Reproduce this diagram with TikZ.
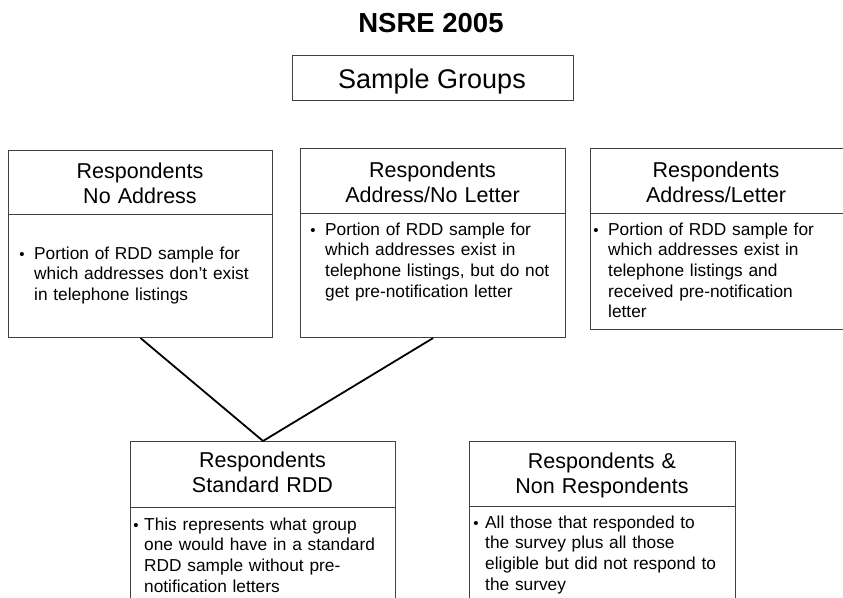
\documentclass[tikz,border=0pt]{standalone}
\usepackage{fontspec}
\setmainfont{Liberation Sans}
\begin{document}
\begin{tikzpicture}[x=1pt,y=-1pt,
  boxst/.style={draw=black!75, line width=1.1pt, inner sep=0pt, anchor=north west},
  hdrtxt/.style={font=\fontsize{21.5}{25}\selectfont, text width=260pt, align=center, anchor=base, inner sep=0pt},
  bodytxt/.style={font=\fontsize{17.3}{20.7}\selectfont, text width=260pt, align=left, anchor=base west, inner sep=0pt},
  bul/.style={font=\fontsize{15}{20.7}\selectfont, anchor=base, inner sep=0pt},
  link/.style={draw=black, line width=1.8pt}]
\useasboundingbox (0,0) rectangle (843,597);
\clip (0,0) rectangle (843,597);
\fill[white] (0,0) rectangle (843,597);

% title
\node[font=\bfseries\fontsize{27.5}{30}\selectfont, anchor=base, inner sep=0pt] (title) at (431,32) {NSRE 2005};
\node[boxst, minimum width=281pt, minimum height=45pt] (sg) at (292,55) {};
\node[font=\fontsize{27}{30}\selectfont, anchor=base, inner sep=0pt] (sgt) at (432,88) {Sample Groups};

% box 1
\node[boxst, minimum width=264pt, minimum height=64pt] (h1) at (8,150) {};
\node[boxst, minimum width=264pt, minimum height=123pt] (b1) at (8,214) {};
\node[hdrtxt] (h1t) at (140,178) {Respondents\\No Address};
\node[bul] (u1) at (22,259) {•};
\node[bodytxt] (b1t) at (34,259) {Portion of RDD sample for\\which addresses don't exist\\in telephone listings};

% box 2
\node[boxst, minimum width=265pt, minimum height=65pt] (h2) at (300,148) {};
\node[boxst, minimum width=265pt, minimum height=124pt] (b2) at (300,213) {};
\node[hdrtxt] (h2t) at (432.5,177) {Respondents\\Address/No Letter};
\node[bul] (u2) at (313,235) {•};
\node[bodytxt] (b2t) at (325,235) {Portion of RDD sample for\\which addresses exist in\\telephone listings, but do not\\get pre-notification letter};

% box 3
\node[boxst, minimum width=260pt, minimum height=65pt] (h3) at (590,148) {};
\node[boxst, minimum width=260pt, minimum height=116pt] (b3) at (590,213) {};
\node[hdrtxt] (h3t) at (716,177) {Respondents\\Address/Letter};
\node[bul] (u3) at (596,235) {•};
\node[bodytxt] (b3t) at (608,235) {Portion of RDD sample for\\which addresses exist in\\telephone listings and\\received pre-notification\\letter};

% box 4
\node[boxst, minimum width=265pt, minimum height=66pt] (h4) at (130,441) {};
\node[boxst, minimum width=265pt, minimum height=120pt] (b4) at (130,507) {};
\node[hdrtxt] (h4t) at (262.5,467) {Respondents\\Standard RDD};
\node[bul] (u4) at (136,530) {•};
\node[bodytxt] (b4t) at (144,530) {This represents what group\\one would have in a standard\\RDD sample without pre-\\notification letters};

% box 5
\node[boxst, minimum width=266pt, minimum height=65pt] (h5) at (469,441) {};
\node[boxst, minimum width=266pt, minimum height=120pt] (b5) at (469,506) {};
\node[hdrtxt] (h5t) at (602,468) {Respondents \&\\Non Respondents};
\node[bul] (u5) at (476,528) {•};
\node[bodytxt] (b5t) at (485,528) {All those that responded to\\the survey plus all those\\eligible but did not respond to\\the survey};

% connectors
\draw[link] (b1.south) -- (h4.north);
\draw[link] (b2.south) -- (h4.north);
\end{tikzpicture}
\end{document}
